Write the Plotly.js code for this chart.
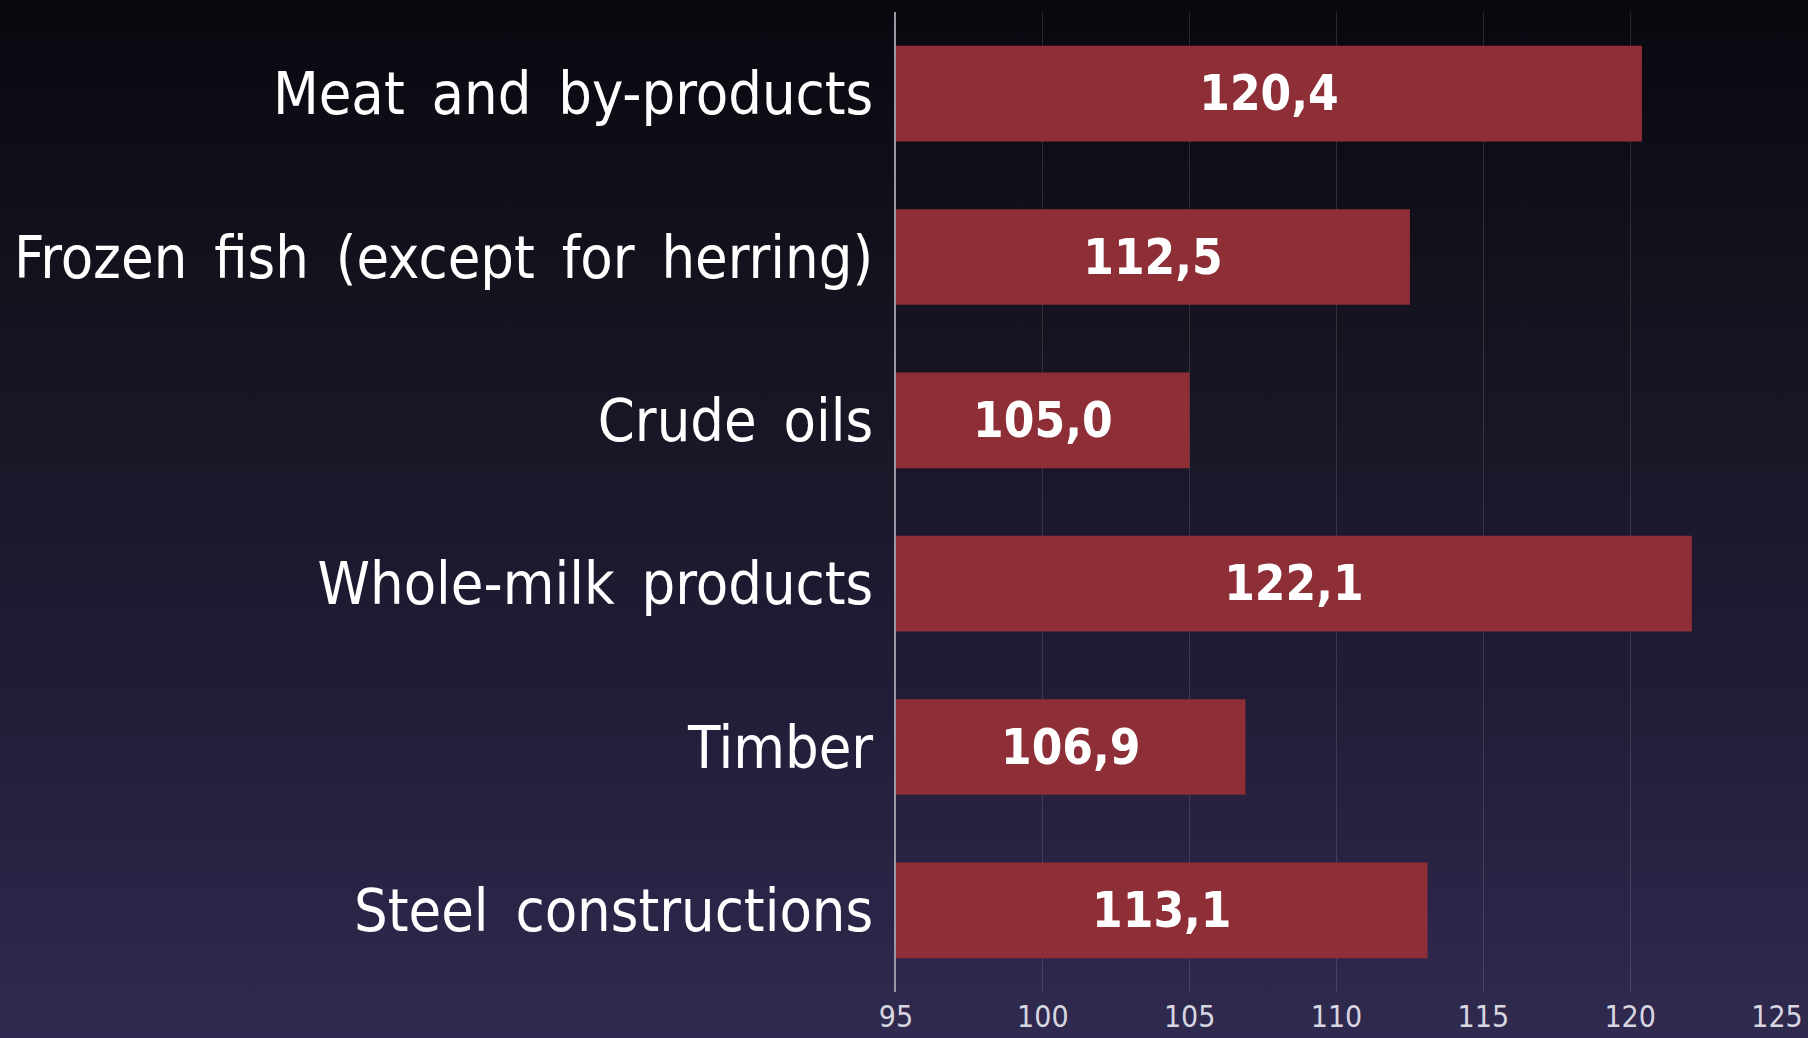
<!DOCTYPE html>
<html>
<head>
<meta charset="utf-8">
<script src="https://cdn.plot.ly/plotly-3.0.1.min.js"></script>
<style>
  html, body { margin: 0; padding: 0; width: 1808px; height: 1038px; overflow: hidden;
    background: linear-gradient(to bottom, #09080f 0%, #15131f 30%, #201c36 65%, #302a50 100%); }
  #chart { width: 1808px; height: 1038px; }
  .ytick text { word-spacing: 10px; }
</style>
</head>
<body>
<div id="chart"></div>
<script>
const categories = [
  "Meat and by-products",
  "Frozen fish (except for herring)",
  "Crude oils",
  "Whole-milk products",
  "Timber",
  "Steel constructions"
];
const values = [120.4, 112.5, 105.0, 122.1, 106.9, 113.1];
const tickValues = [95, 100, 105, 110, 115, 120, 125];

const fontFam = '"Liberation Sans Narrow", "DejaVu Sans Condensed", "Roboto", sans-serif';

const trace = {
  type: 'bar',
  orientation: 'h',
  y: categories,
  x: values.map(v => v - 95),
  base: 95,
  text: values.map(v => v.toFixed(1).replace('.', ',')),
  textposition: 'inside',
  insidetextanchor: 'middle',
  textangle: 0,
  textfont: { family: fontFam, size: 49, color: '#ffffff', weight: 'bold' },
  marker: { color: '#8e2e36', line: { width: 0 } },
  hoverinfo: 'skip'
};

const layout = {
  width: 1808,
  height: 1038,
  margin: { l: 896, r: 31, t: 12, b: 46 },
  paper_bgcolor: 'rgba(0,0,0,0)',
  plot_bgcolor: 'rgba(0,0,0,0)',
  showlegend: false,
  bargap: 0.414,
  separators: ',.',
  xaxis: {
    range: [95, 125],
    tickvals: tickValues,
    ticktext: tickValues.map(String),
    showgrid: true,
    gridcolor: 'rgba(255,255,255,0.13)',
    gridwidth: 1,
    zeroline: false,
    showline: false,
    ticks: '',
    ticklabelstandoff: 4,
    tickfont: { family: fontFam, size: 30, color: '#d8d6e0' },
    fixedrange: true
  },
  yaxis: {
    autorange: 'reversed',
    categoryorder: 'array',
    categoryarray: categories,
    showgrid: false,
    zeroline: false,
    showline: true,
    linecolor: '#9a98a4',
    linewidth: 2,
    ticks: '',
    ticklabelstandoff: 9,
    tickfont: { family: fontFam, size: 59, color: '#ffffff' },
    fixedrange: true
  }
};

Plotly.newPlot('chart', [trace], layout, { displayModeBar: false, staticPlot: true });
</script>
</body>
</html>
